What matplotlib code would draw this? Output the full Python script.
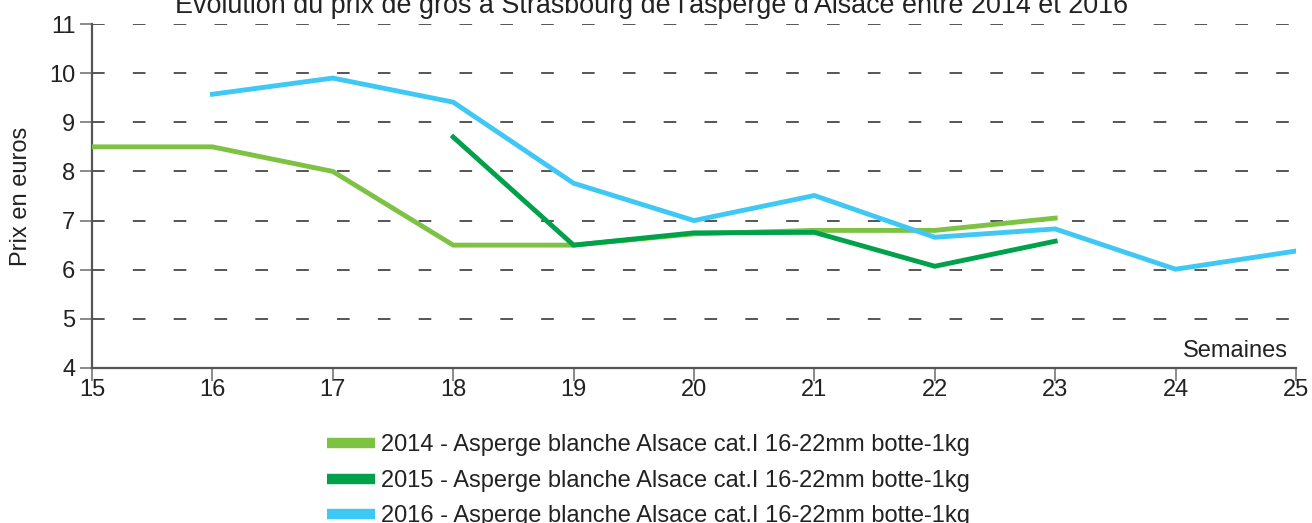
import matplotlib.pyplot as plt
from matplotlib.lines import Line2D

plt.rcParams['font.family'] = ['Liberation Sans', 'DejaVu Sans']

weeks_2014 = [15, 16, 17, 18, 19, 20, 21, 22, 23]
prix_2014 = [8.5, 8.5, 8.0, 6.5, 6.5, 6.73, 6.8, 6.8, 7.05]
weeks_2015 = [18, 19, 20, 21, 22, 23]
prix_2015 = [8.7, 6.5, 6.75, 6.76, 6.07, 6.58]
weeks_2016 = [16, 17, 18, 19, 20, 21, 22, 23, 24, 25]
prix_2016 = [9.57, 9.9, 9.41, 7.76, 7.0, 7.51, 6.66, 6.83, 6.01, 6.38]

label = "Asperge blanche Alsace cat.I 16-22mm botte-1kg"
series = [("2014", weeks_2014, prix_2014, "#7dc242"),
          ("2015", weeks_2015, prix_2015, "#00a14b"),
          ("2016", weeks_2016, prix_2016, "#40c8f4")]

fig = plt.figure(figsize=(13.12, 5.23), dpi=100)
ax = fig.add_axes([0.0701, 0.2964, 0.9177, 0.6577])

for y in range(5, 12):
    ax.axhline(y, color="#555555", lw=1.4, dashes=(6.5, 14.5), zorder=1)

for year, w, p, c in series:
    ax.plot(w, p, color=c, lw=3.5, solid_joinstyle="miter", zorder=3)

ax.set_xlim(15, 25)
ax.set_ylim(4, 11)
ax.set_xticks(range(15, 26))
ax.set_yticks(range(4, 12))
ax.tick_params(labelsize=17, length=9, width=1.2, color="#777777", pad=3,
               labelcolor="#222222")
ax.tick_params(axis="x", pad=-1)
for s in ["top", "right"]:
    ax.spines[s].set_visible(False)
for s in ["left", "bottom"]:
    ax.spines[s].set_color("#555555")
    ax.spines[s].set_linewidth(1.6)

ax.set_ylabel("Prix en euros", fontsize=17, labelpad=12, color="#222222")
ax.text(0.993, 0.05, "Semaines", transform=ax.transAxes, ha="right", va="center",
        fontsize=17, color="#222222")

fig.text(0.4965, 0.993, "Évolution du prix de gros à Strasbourg de l'asperge d'Alsace entre 2014 et 2016",
         ha="center", va="center", fontsize=19.4, color="#222222")

handles = [Line2D([], [], color=c, lw=7.5, solid_capstyle="butt") for _, _, _, c in series]
labels = [f"{year} - {label}" for year, _, _, _ in series]
fig.legend(handles, labels, loc="upper left", bbox_to_anchor=(0.249, 0.170),
           frameon=False, fontsize=17, handlelength=2.05, handletextpad=0.25,
           labelspacing=0.58, borderpad=0, borderaxespad=0,
           labelcolor="#222222")

fig.savefig("out.png", dpi=100)
